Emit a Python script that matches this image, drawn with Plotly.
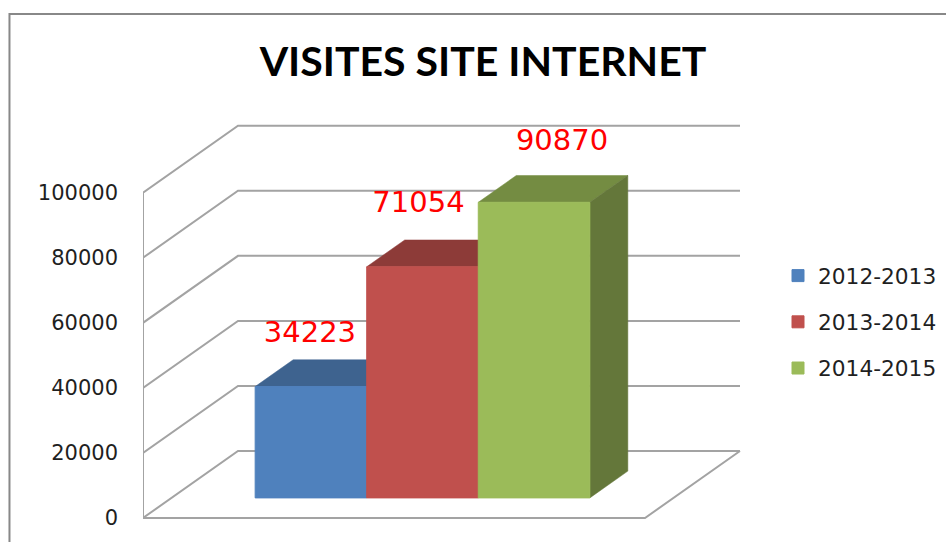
import plotly.graph_objects as go

# ---- data ----
title_text = "VISITES SITE INTERNET"
series_names = ["2012-2013", "2013-2014", "2014-2015"]
series_values = [34223, 71054, 90870]
value_ticks = [0, 20000, 40000, 60000, 80000, 100000]

# ---- colours ----
front_colors = ["#4F81BD", "#C0504D", "#9BBB59"]
top_colors = ["#3E638F", "#8D3B38", "#748C42"]
side_colors = ["#35557B", "#793230", "#64773A"]
grid_color = "#A3A3A3"
label_color = "#FF0000"
text_color = "#1F1F1F"

# ---- geometry: plot area in page pixels, and the scales that follow ----
W, H = 946, 542
PX_PER_X = 502.0            # floor width in pixels = one x unit (the single category)
PX_PER_VAL = 3.253 / 1000   # pixels per visit
LEFT, RIGHT, TOP, BOTTOM = 143, 745, 100, 530
Y0_PX = 518
x_range = [0, (RIGHT - LEFT) / PX_PER_X]
y_range = [-(BOTTOM - Y0_PX) / PX_PER_VAL, (Y0_PX - TOP) / PX_PER_VAL]

# oblique depth of the box, in axis units
DEPTH_X = 95 / PX_PER_X
DEPTH_Y = 67 / PX_PER_VAL
# bars occupy this share of the depth
BAR_D0, BAR_D1 = 0.30, 0.70
GAP_WIDTH = 1.5
BAR_W = 1 / (len(series_values) + GAP_WIDTH)

# manual label offsets from the bar's front-top centre (pixels)
label_dx = [-1, -4, 28]
label_dy = [52, 62, 60]


def depth(x, y, d):
    return x + d * DEPTH_X, y + d * DEPTH_Y


fig = go.Figure()

# walls and floor, built from the value ticks
line_style = dict(color=grid_color, width=2)
for t in value_ticks:
    bx, by = depth(0, t, 1)
    ex, ey = depth(1, t, 1)
    fig.add_trace(go.Scatter(x=[0, bx, ex], y=[t, by, ey], mode="lines", line=line_style,
                             showlegend=False, hoverinfo="skip"))
fig.add_trace(go.Scatter(x=[0, 0], y=[0, max(value_ticks)], mode="lines", line=line_style,
                         showlegend=False, hoverinfo="skip"))
fx, fy = depth(1, 0, 1)
fig.add_trace(go.Scatter(x=[0, 1, fx], y=[0, 0, fy], mode="lines", line=line_style,
                         showlegend=False, hoverinfo="skip"))

# top and side faces of each bar
base_val = BAR_D0 * DEPTH_Y
for i, v in enumerate(series_values):
    x0 = BAR_D0 * DEPTH_X + (GAP_WIDTH / 2 + i) * BAR_W
    x1 = x0 + BAR_W
    top = base_val + v
    span = BAR_D1 - BAR_D0
    ax0, ay = depth(x0, top, span)
    ax1, _ = depth(x1, top, span)
    fig.add_trace(go.Scatter(x=[x0, x1, ax1, ax0, x0], y=[top, top, ay, ay, top],
                             mode="lines", fill="toself", fillcolor=top_colors[i],
                             line=dict(color=top_colors[i], width=0.5),
                             showlegend=False, hoverinfo="skip"))
    _, by = depth(x1, base_val, span)
    fig.add_trace(go.Scatter(x=[x1, ax1, ax1, x1, x1], y=[top, ay, by, base_val, top],
                             mode="lines", fill="toself", fillcolor=side_colors[i],
                             line=dict(color=side_colors[i], width=0.5),
                             showlegend=False, hoverinfo="skip"))

# front faces on an overlaid subplot so they cover the faces behind them
for i, v in enumerate(series_values):
    x0 = BAR_D0 * DEPTH_X + (GAP_WIDTH / 2 + i) * BAR_W
    fig.add_trace(go.Bar(x=[x0 + BAR_W / 2], y=[v], base=[base_val], width=[BAR_W],
                         name=series_names[i], legendgroup=series_names[i],
                         marker=dict(color=front_colors[i], line=dict(color=front_colors[i], width=1)),
                         xaxis="x2", yaxis="y2"))

# data labels
for i, v in enumerate(series_values):
    x0 = BAR_D0 * DEPTH_X + (GAP_WIDTH / 2 + i) * BAR_W
    fig.add_trace(go.Scatter(x=[x0 + BAR_W / 2 + label_dx[i] / PX_PER_X],
                             y=[base_val + v + label_dy[i] / PX_PER_VAL],
                             mode="text", text=[str(v)], textposition="middle center",
                             textfont=dict(family="DejaVu Sans", size=29, color=label_color),
                             xaxis="x2", yaxis="y2", showlegend=False, hoverinfo="skip"))

hidden = dict(visible=False, fixedrange=True)
fig.update_layout(
    width=W, height=H,
    margin=dict(l=LEFT, r=W - RIGHT, t=TOP, b=H - BOTTOM, autoexpand=False),
    paper_bgcolor="white", plot_bgcolor="rgba(0,0,0,0)",
    barmode="overlay",
    font=dict(family="DejaVu Sans", color=text_color),
    title=dict(text=f"<b>{title_text}</b>", xref="paper", yref="container",
               x=(483 - LEFT) / (RIGHT - LEFT), xanchor="center", y=1 - 61.5 / H, yanchor="middle",
               font=dict(family="Lato", size=41, color="#000000")),
    xaxis=dict(range=x_range, **hidden),
    yaxis=dict(range=y_range, tickmode="array", tickvals=value_ticks,
               ticktext=[str(t) for t in value_ticks], showgrid=False, zeroline=False,
               showline=False, ticks="", ticklabelstandoff=24, fixedrange=True,
               tickfont=dict(family="DejaVu Sans", size=21, color=text_color)),
    xaxis2=dict(range=x_range, overlaying="x", **hidden),
    yaxis2=dict(range=y_range, overlaying="y", **hidden),
    legend=dict(xref="container", yref="container", x=778 / W, xanchor="left",
                y=1 - 255 / H, yanchor="top", tracegroupgap=15,
                font=dict(family="DejaVu Sans", size=21.7, color=text_color),
                bgcolor="rgba(0,0,0,0)", itemclick=False, itemdoubleclick=False),
    shapes=[dict(type="path", xref="paper", yref="paper", layer="above",
                 path="M {:.4f},{:.4f} L {:.4f},{:.4f} L {:.4f},{:.4f}".format(
                     (9.5 - LEFT) / (RIGHT - LEFT), (BOTTOM - H - 5) / (BOTTOM - TOP),
                     (9.5 - LEFT) / (RIGHT - LEFT), (BOTTOM - 14) / (BOTTOM - TOP),
                     (W + 5 - LEFT) / (RIGHT - LEFT), (BOTTOM - 14) / (BOTTOM - TOP)),
                 line=dict(color="#888888", width=2))],
)

fig.write_html("out.html", config=dict(displayModeBar=False),
               post_script="document.body.style.margin='0';document.body.style.overflow='hidden';")
